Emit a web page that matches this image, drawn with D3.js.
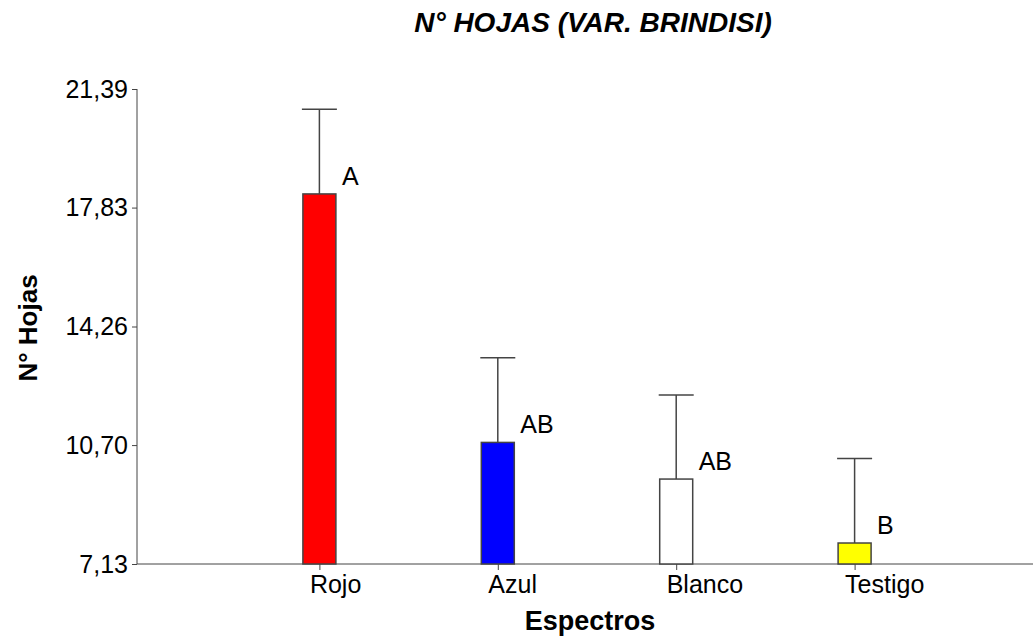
<html>
<head>
  <script src="https://d3js.org/d3.v7.min.js"></script>
  <style>
    body { margin: 0; padding: 0; background: #fff; }
    svg { display: block; font-family: Arial, "Liberation Sans", sans-serif; }
  </style>
</head>
<body>
<div id="chart"></div>
<script>
// data
const categories = ["Rojo", "Azul", "Blanco", "Testigo"];
const means = [18.24, 10.78, 9.68, 7.76];
const upper = [20.78, 13.32, 12.20, 10.30];   // top of error bar
const letters = ["A", "AB", "AB", "B"];
const colors = ["#ff0000", "#0000ff", "#ffffff", "#ffff00"];
const yTicks = [7.13, 10.70, 14.26, 17.83, 21.39];

const width = 1033, height = 637;
const axisX = 137, axisY = 564, axisTop = 89;
const barW = 33;

const svg = d3.select("#chart").append("svg")
  .attr("width", width)
  .attr("height", height);

const x = d3.scalePoint().domain(categories).range([141, 1033]).padding(1);
const y = d3.scaleLinear().domain([7.13, 21.39]).range([axisY, axisTop]);

const data = categories.map((c, i) => ({ cat: c, mean: means[i], up: upper[i], letter: letters[i], color: colors[i] }));

// title
svg.append("text")
  .attr("x", 593).attr("y", 32)
  .attr("text-anchor", "middle")
  .style("font-size", "28px").style("font-weight", "bold").style("font-style", "italic")
  .text("N° HOJAS (VAR. BRINDISI)");

// y axis
const yAxis = svg.append("g")
  .attr("transform", `translate(${axisX},0)`)
  .call(d3.axisLeft(y).tickValues(yTicks).tickSize(5).tickPadding(4)
    .tickFormat(d => d.toFixed(2).replace(".", ",")));
yAxis.select(".domain").attr("d", `M0,${axisTop}V${axisY}`).attr("stroke", "#444");
yAxis.selectAll(".tick line").attr("stroke", "#444");
yAxis.selectAll(".tick text").style("font-size", "25px").attr("fill", "#000").attr("font-family", null);

// x axis
const xAxis = svg.append("g")
  .attr("transform", `translate(0,${axisY})`)
  .call(d3.axisBottom(x).tickSize(6).tickPadding(0));
xAxis.select(".domain").attr("d", `M${axisX},0H${width}`).attr("stroke", "#444");
xAxis.selectAll(".tick line").attr("stroke", "#444");
xAxis.selectAll(".tick text")
  .attr("text-anchor", "start")
  .attr("x", -10).attr("y", 29).attr("dy", null)
  .style("font-size", "25px").attr("fill", "#000").attr("font-family", null);

// axis titles
svg.append("text")
  .attr("transform", `translate(37,328) rotate(-90)`)
  .attr("text-anchor", "middle")
  .style("font-size", "26px").style("font-weight", "bold")
  .text("N° Hojas");

svg.append("text")
  .attr("x", 590).attr("y", 630)
  .attr("text-anchor", "middle")
  .style("font-size", "27px").style("font-weight", "bold")
  .text("Espectros");

// error bars
const err = svg.append("g").attr("stroke", "#444").attr("stroke-width", 1.5);
err.selectAll(".stem").data(data).enter().append("line")
  .attr("x1", d => x(d.cat)).attr("x2", d => x(d.cat))
  .attr("y1", d => y(d.mean)).attr("y2", d => y(d.up));
err.selectAll(".cap").data(data).enter().append("line")
  .attr("x1", d => x(d.cat) - barW / 2 - 1).attr("x2", d => x(d.cat) + barW / 2 + 1)
  .attr("y1", d => y(d.up)).attr("y2", d => y(d.up));

// bars
svg.append("g").selectAll("rect").data(data).enter().append("rect")
  .attr("x", d => x(d.cat) - barW / 2)
  .attr("y", d => y(d.mean))
  .attr("width", barW)
  .attr("height", d => axisY - y(d.mean))
  .attr("fill", d => d.color)
  .attr("stroke", "#444")
  .attr("stroke-width", 1.5);

// significance letters
svg.append("g").selectAll("text").data(data).enter().append("text")
  .attr("x", d => x(d.cat) + barW / 2 + 6)
  .attr("y", d => y(d.mean) - 9)
  .style("font-size", "25px")
  .text(d => d.letter);
</script>
</body>
</html>
